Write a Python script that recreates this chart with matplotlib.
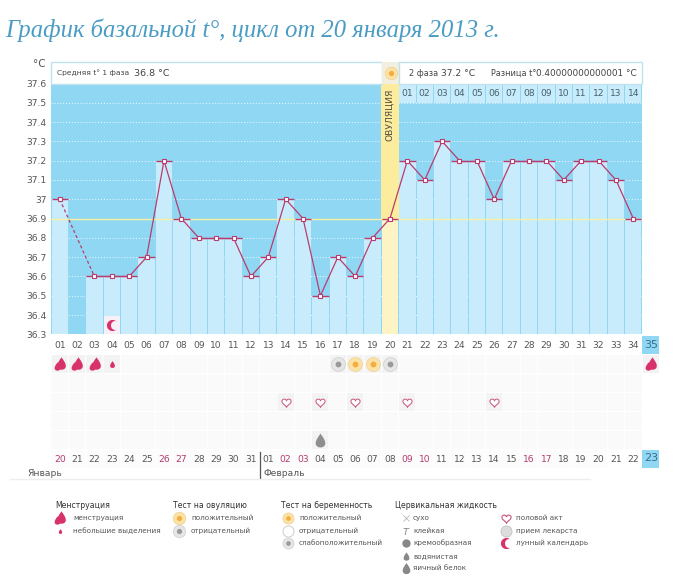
import numpy as np
import matplotlib
matplotlib.use('Agg')
import matplotlib.pyplot as plt
from matplotlib.path import Path
from matplotlib.patches import Rectangle

W, H = 677, 581

# данные графика
days = list(range(1, 35))
temps = [37.0, np.nan, 36.6, 36.6, 36.6, 36.7, 37.2, 36.9, 36.8, 36.8, 36.8, 36.6,
         36.7, 37.0, 36.9, 36.5, 36.7, 36.6, 36.8, 36.9, 37.2, 37.1, 37.3, 37.2,
         37.2, 37.0, 37.2, 37.2, 37.2, 37.1, 37.2, 37.2, 37.1, 36.9]
y_ticks = [37.6, 37.5, 37.4, 37.3, 37.2, 37.1, 37.0, 36.9, 36.8, 36.7, 36.6, 36.5, 36.4, 36.3]
y_labels = ['37.6', '37.5', '37.4', '37.3', '37.2', '37.1', '37', '36.9', '36.8', '36.7',
            '36.6', '36.5', '36.4', '36.3']
coverline = 36.9
ovulation_day = 20
phase2_labels = ['01', '02', '03', '04', '05', '06', '07', '08', '09', '10', '11', '12', '13', '14']
dates = ['20', '21', '22', '23', '24', '25', '26', '27', '28', '29', '30', '31',
         '01', '02', '03', '04', '05', '06', '07', '08', '09', '10', '11', '12',
         '13', '14', '15', '16', '17', '18', '19', '20', '21', '22']
weekend_days = [1, 7, 8, 14, 15, 21, 22, 28, 29]
heavy_days = [1, 2, 3, 35]
light_days = [4]
ovul_pos_days = [18, 19]
ovul_neg_days = [17, 20]
heart_days = [14, 16, 18, 21, 26]
egg_white_days = [16]
moon_day = 4

BG = '#90d7f4'
BAR = '#c9ecfc'
LINE = '#b83c6e'
TXT = '#555555'
PINK = '#d8326c'


def drop_path():
    a = np.linspace(0, 2 * np.pi, 50)
    x = 0.95 * np.sin(a) * np.sin(a / 2) ** 1.3
    y = np.cos(a)
    return Path(np.column_stack([x, y]))


def heart_path():
    a = np.linspace(0, 2 * np.pi, 60)
    x = 16 * np.sin(a) ** 3
    y = 13 * np.cos(a) - 5 * np.cos(2 * a) - 2 * np.cos(3 * a) - np.cos(4 * a)
    return Path(np.column_stack([x, y]) / 17)


def moon_path():
    a = np.linspace(np.pi * 0.3, np.pi * 1.7, 30)
    outer = np.column_stack([np.cos(a), np.sin(a)])
    inner = np.column_stack([0.45 + 0.72 * np.cos(a[::-1]), 0.8 * np.sin(a[::-1])])
    return Path(np.vstack([outer, inner, outer[:1]]))


DROP, HEART, MOON = drop_path(), heart_path(), moon_path()


def ux(ax):
    return abs(np.diff(ax.get_xlim())[0]) / (ax.get_position().width * W)


def uy(ax):
    return abs(np.diff(ax.get_ylim())[0]) / (ax.get_position().height * H)


def draw_heavy(ax, x, y):
    # две капли рядом
    ax.plot([x + 1.2 * ux(ax)], [y - 0.6 * uy(ax)], marker=DROP, ms=9, color=PINK, mec='none', zorder=5)
    ax.plot([x - 2.6 * ux(ax)], [y + 1.6 * uy(ax)], marker=DROP, ms=6, color=PINK, mec='none', zorder=5)


def draw_sun(ax, x, y, yellow=True, size=10):
    outer, inner = ('#fbe3a8', '#f4ad3e') if yellow else ('#e6e6e6', '#9a9a9a')
    ax.plot([x], [y], 'o', ms=size, color=outer, mec='#f2cf8a' if yellow else '#cfcfcf', mew=0.5, zorder=5)
    ax.plot([x], [y], 'o', ms=size * 0.42, color=inner, mec='none', zorder=6)


def axes_px(left, top, right, bottom):
    return fig.add_axes([left / W, 1 - bottom / H, (right - left) / W, (bottom - top) / H])


fig = plt.figure(figsize=(W / 100, H / 100), dpi=100, facecolor='white')
plt.rcParams['font.family'] = ['DejaVu Sans']

# основной график температуры
ax = axes_px(51, 83.5, 642, 334.3)
ax.set_facecolor(BG)
ax.set_xlim(0.5, 34.5)
ax.set_ylim(36.3, 37.6)
for s in ax.spines.values():
    s.set_visible(False)
ax.set_xticks([])
ax.set_yticks(y_ticks)
ax.set_yticklabels(y_labels, fontsize=6.6, color=TXT)
ax.tick_params(axis='y', length=0, pad=3)

t = np.array(temps)
ok = ~np.isnan(t)
d = np.array(days)
bar_col = [BAR if x != ovulation_day else '#fdf3c4' for x in d[ok]]
ax.bar(d[ok], t[ok] - 36.3, bottom=36.3, width=0.94, color=bar_col, zorder=1)
ax.axvspan(ovulation_day - 0.5, ovulation_day + 0.5, ymin=(t[ovulation_day - 1] - 36.3) / 1.3,
           color='#fbec9e', lw=0, zorder=1)
# полоса с днями второй фазы
ax.bar(d[ovulation_day:], 0.1, bottom=37.5, width=0.94, color=BAR, zorder=1)
for x, lab in zip(d[ovulation_day:], phase2_labels):
    ax.text(x, 37.55, lab, ha='center', va='center', fontsize=6.6, color='#44606c', zorder=3)
for yv in y_ticks[1:-1]:
    ax.axhline(yv, color='white', lw=0.7, ls=(0, (1, 2)), alpha=0.85, zorder=0.5)
ax.axhline(coverline, color='#f6f0a0', lw=1, zorder=3)
ax.text(ovulation_day, 37.44, 'ОВУЛЯЦИЯ', rotation=90, ha='center', va='center', fontsize=6.6,
        color='#555040', zorder=4)

# линия температуры
ax.hlines(t[ok], d[ok] - 0.47, d[ok] + 0.47, color=LINE, lw=1, zorder=4)
valid = d[ok]
for a, b in zip(valid[:-1], valid[1:]):
    ax.plot([a, b], [t[a - 1], t[b - 1]], color=LINE, lw=0.9,
            ls='-' if b - a == 1 else (0, (2.5, 2)), zorder=5)
ax.plot(d[ok], t[ok], 's', ms=3.3, mfc='white', mec=LINE, mew=0.8, ls='none', zorder=6)
ax.add_patch(Rectangle((moon_day - 0.47, 36.3), 0.94, 0.095, color='#f7f1f7', lw=0, zorder=3))
ax.plot([moon_day], [36.35], marker=MOON, ms=8, color=PINK, mec='none', zorder=6)

# ряды с отметками под графиком
st = axes_px(51, 335.5, 659.4, 480)
st.set_xlim(0.5, 35.5)
st.set_ylim((480 - 345) / 19, (335.5 - 345) / 19)
st.axis('off')
for r in range(1, 6):
    st.bar(days, 0.92, bottom=r - 0.46, width=0.96, color='#fafafa', zorder=1)
st.bar(days[:32], 0.92, bottom=6 - 0.46, width=0.96, color='#fcfcfc', zorder=1)
for x in days:
    st.text(x, 0, f'{x:02d}', ha='center', va='center', fontsize=6.6, color=TXT, zorder=3)
for x, lab in zip(days, dates):
    col = '#b23a6e' if x in weekend_days else TXT
    st.text(x, 6, lab, ha='center', va='center', fontsize=6.6, color=col, zorder=3)

st.bar([35], 0.95, bottom=-0.47, width=0.95, color=BG, zorder=1)
st.text(35, 0, '35', ha='center', va='center', fontsize=8, color='#35708c', zorder=3)
st.bar([35], 0.9, bottom=5.55, width=0.95, color=BG, zorder=1)
st.text(35, 5.95, '23', ha='center', va='center', fontsize=8, color='#35708c', zorder=3)

marked = [(x, 1) for x in heavy_days + light_days + ovul_pos_days + ovul_neg_days]
marked += [(x, 3) for x in heart_days] + [(x, 5) for x in egg_white_days]
for x, r in marked:
    st.bar([x], 0.9, bottom=r - 0.45, width=0.92, color='#f3f3f3', zorder=2)
for x in heavy_days:
    draw_heavy(st, x, 1)
for x in light_days:
    st.plot([x], [1], marker=DROP, ms=5, color=PINK, mec='none', zorder=5)
for x in ovul_pos_days:
    draw_sun(st, x, 1)
for x in ovul_neg_days:
    draw_sun(st, x, 1, yellow=False)
st.plot(heart_days, [3] * len(heart_days), marker=HEART, ms=7, mfc='white', mec='#c9517f', mew=0.7,
        ls='none', zorder=5)
st.plot(egg_white_days, [5], marker=DROP, ms=10, color='#8e8e8e', mec='none', ls='none', zorder=5)

# шапка, подписи и легенда рисуются в пикселях
top = fig.add_axes([0, 0, 1, 1], facecolor='none', zorder=10)
top.set_xlim(0, W)
top.set_ylim(H, 0)
top.axis('off')

top.text(5, 30, 'График базальной t°, цикл от 20 января 2013 г.', fontsize=17.7, style='italic',
         family='Liberation Serif', color='#4a9cc4', va='center')
top.text(39, 64, '°C', fontsize=7.5, color=TXT, ha='center', va='center')
top.add_patch(Rectangle((51, 62), 331, 21.5, fc='white', ec='#bfe3ee', lw=1))
top.add_patch(Rectangle((382, 62), 17, 21.5, fc='#f2eee0', ec='none'))
top.add_patch(Rectangle((399, 62), 243, 21.5, fc='white', ec='#bfe3ee', lw=1))
draw_sun(top, 390.5, 73, size=9)
top.text(57, 73, 'Средняя t° 1 фаза', fontsize=5.4, color='#444444', va='center')
top.text(134, 73, '36.8 °C', fontsize=6.8, color='#444444', va='center')
top.text(409, 73, '2 фаза', fontsize=5.9, color='#444444', va='center')
top.text(441, 73, '37.2 °C', fontsize=6.6, color='#444444', va='center')
top.text(491, 73, 'Разница t°', fontsize=5.9, color='#444444', va='center')
top.text(536, 73, '0.40000000000001 °C', fontsize=6.4, color='#444444', va='center')

top.text(27, 474, 'Январь', fontsize=6.6, color=TXT, va='center')
top.text(264, 474, 'Февраль', fontsize=6.6, color=TXT, va='center')
top.plot([259.5, 259.5], [452, 478], color='#555555', lw=0.9)
top.plot([10, 590], [478.5, 478.5], color='#eeeeee', lw=1)

for x, lab in [(55, 'Менструация'), (173, 'Тест на овуляцию'), (281, 'Тест на беременность'),
               (395, 'Цервикальная жидкость')]:
    top.text(x, 505, lab, fontsize=5.6, color='#333333', va='center')

legend_items = [(73, 518, 'менструация'), (73, 531, 'небольшие выделения'),
                (191, 518, 'положительный'), (191, 531, 'отрицательный'),
                (299, 518, 'положительный'), (299, 531, 'отрицательный'), (299, 543, 'слабоположительный'),
                (413, 518, 'сухо'), (413, 531, 'клейкая'), (413, 543, 'кремообразная'),
                (413, 556, 'водянистая'), (413, 568, 'яичный белок'),
                (516, 518, 'половой акт'), (516, 531, 'прием лекарста'), (516, 543, 'лунный календарь')]
for x, y, lab in legend_items:
    top.text(x, y, lab, fontsize=5.2, color=TXT, va='center')

draw_heavy(top, 60, 518)
top.plot([60], [531], marker=DROP, ms=3.5, color=PINK, mec='none')
draw_sun(top, 179, 518, size=9)
draw_sun(top, 179, 531, yellow=False, size=9)
draw_sun(top, 288, 518, size=8)
top.plot([288], [531], 'o', ms=8, mfc='white', mec='#cccccc', mew=0.7)
draw_sun(top, 288, 543, yellow=False, size=8)
top.plot([406], [518], 'x', ms=5, color='#aaaaaa', mew=0.5)
top.plot([406], [531], marker='$T$', ms=5, color='#888888', mew=0)
top.plot([406], [543], 'o', ms=6, color='#888888', mec='none')
top.plot([406], [556], marker=DROP, ms=6, color='#888888', mec='none')
top.plot([406], [568], marker=DROP, ms=8, color='#888888', mec='none')
top.plot([506], [518], marker=HEART, ms=7, mfc='white', mec='#c9517f', mew=0.8)
top.plot([506], [531], 'o', ms=8, color='#dddddd', mec='#bbbbbb', mew=0.5)
top.plot([506], [543], marker=MOON, ms=8, color=PINK, mec='none')

fig.savefig('out.png', dpi=100)
